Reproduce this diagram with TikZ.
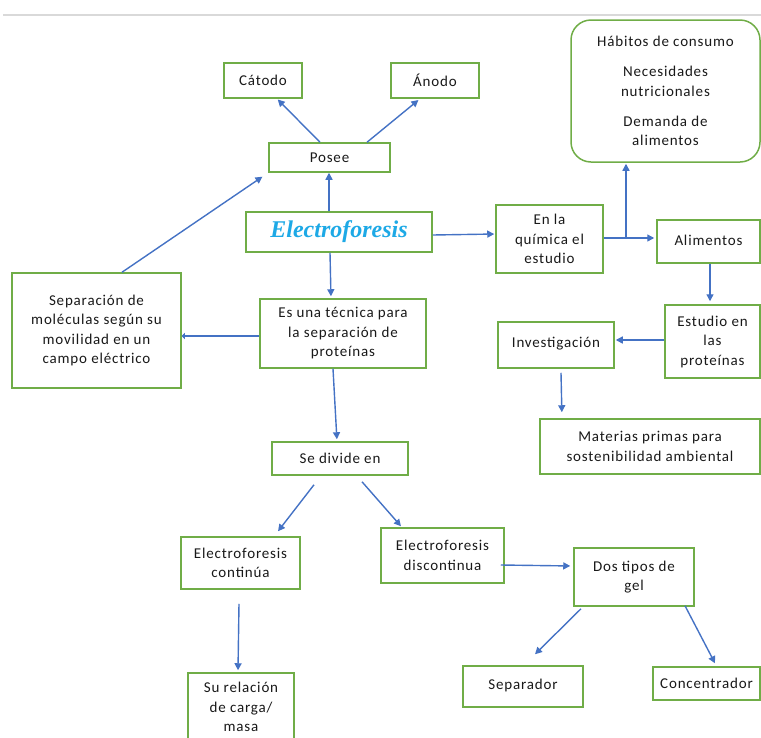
\documentclass[tikz,border=0pt]{standalone}
\usepackage{fontspec}
\setmainfont{Carlito}[LetterSpace=5.5]
\newfontfamily\titlefont{Liberation Serif}
\usetikzlibrary{arrows.meta}
\definecolor{boxgreen}{HTML}{70AD47}
\definecolor{arrowblue}{HTML}{4472C4}
\definecolor{titleblue}{HTML}{1DA9E6}
\definecolor{rulegray}{HTML}{D9D9D9}
\tikzset{
  box/.style={draw=boxgreen, line width=1.5pt, fill=white, align=center,
    inner sep=0pt, font=\fontsize{15}{19.5}\selectfont, text=black!90},
  conn/.style={draw=arrowblue, line width=1.4pt,
    -{Triangle[length=7pt,width=7pt]}},
}
\newcommand{\placebox}[7][]{%
  \node[box,#1, minimum width=#4pt, minimum height=#5pt] (#2) at (#3) {#6#7};}
\begin{document}
\begin{tikzpicture}[x=1pt,y=-1pt]
\useasboundingbox (0,0) rectangle (761,737);
% header rule
\draw[rulegray, line width=2.5pt] (3,15) -- (761,15);

% concept boxes
\placebox{catodo}{263,80.5}{78}{35}{C\'atodo}{}
\placebox{anodo}{435,80.5}{88}{35}{\'Anodo}{}
\placebox{posee}{329.5,157.5}{121}{29}{Posee}{}
\placebox[font=\fontsize{24}{26}\titlefont\bfseries\itshape, text=titleblue]{electro}{339,232}{186}{40}{Electroforesis}{}
\placebox{quimica}{549.5,239}{107}{68}{En la\\qu\'imica el\\estudio}{}
\placebox{alimentos}{708.5,241.5}{103}{43}{\raisebox{3pt}{Alimentos}}{}
\placebox[rounded corners=20pt]{habitos}{665.5,91}{189}{142}{H\'abitos de consumo\\[10.5pt]Necesidades\\nutricionales\\[10.5pt]}{Demanda de\\alimentos}
\placebox{separacion}{96.5,330.5}{169}{115}{Separaci\'on de\\mol\'eculas seg\'un su\\movilidad en un\\campo el\'ectrico}{}
\placebox{tecnica}{343,333.5}{166}{69}{Es una t\'ecnica para\\la separaci\'on de\\prote\'inas}{}
\placebox{estudio}{712.5,341.5}{95}{73}{Estudio en\\las\\prote\'inas}{}
\placebox{investigacion}{556,345}{116}{46}{\raisebox{5pt}{Investigaci\'on}}{}
\placebox{materias}{650,446.5}{220}{55}{Materias primas para\\sostenibilidad ambiental}{}
\placebox{sedivide}{340,458.5}{136}{33}{Se divide en}{}
\placebox{continua}{240.5,563}{119}{52}{Electroforesis\\contin\'ua}{}
\placebox{discontinua}{442.5,555.5}{123}{55}{Electroforesis\\discontinua}{}
\placebox{dostipos}{634,577}{120}{58}{Dos tipos de\\gel}{}
\placebox{separador}{523,686.5}{120}{41}{\raisebox{4pt}{Separador}}{}
\placebox{concentrador}{706.5,683.5}{107}{33}{Concentrador}{}
\placebox{surelacion}{241,707}{106}{68}{Su relaci\'on\\de carga/\\masa}{}

% connectors
\draw[conn, shorten >=1pt] ([xshift=-9.5pt]posee.north) -- ([xshift=14pt]catodo.south);
\draw[conn, shorten >=2pt] ([xshift=37.5pt]posee.north) -- ([xshift=-15pt]anodo.south);
\draw[conn] ([xshift=-10pt]electro.north) -- ([xshift=-0.5pt]posee.south);
\draw[conn, shorten >=7pt] ([xshift=25.5pt]separacion.north) -- (posee.south west);
\draw[conn, shorten >=1pt] ([yshift=-3pt]electro.east) -- ([yshift=5pt]quimica.west);
\coordinate (fork) at (626,238);
\draw[conn, shorten >=2pt] (quimica.east |- fork) -- (alimentos.west |- fork);
\draw[conn, shorten >=1pt] (fork) -- (habitos.south -| fork);
\draw[conn, shorten >=3pt] ([xshift=1.5pt]alimentos.south) -- ([xshift=1.5pt]alimentos.south |- estudio.north);
\draw[conn, shorten >=1pt] ([yshift=1.5pt]estudio.west) -- ([yshift=1.5pt]estudio.west -| investigacion.east);
\draw[conn, shorten >=6pt] ([xshift=5pt,yshift=-4pt]investigacion.south) -- ([xshift=6pt]investigacion.south |- materias.north);
\draw[conn, shorten >=2pt] ([xshift=-9pt]electro.south) -- ([xshift=-12pt]tecnica.north);
\draw[draw=arrowblue, line width=1.4pt, -{Triangle[length=3pt,width=6pt]}] ([yshift=-2.5pt]tecnica.west) -- ([yshift=-2.5pt]tecnica.west -| separacion.east);
\draw[conn, shorten >=2pt] ([xshift=-10pt]tecnica.south) -- ([xshift=-3pt]sedivide.north);
\draw[conn] ([xshift=-26pt,yshift=-9pt]sedivide.south) -- ([xshift=37.5pt,yshift=5pt]continua.north);
\draw[conn] ([xshift=22pt,yshift=-6pt]sedivide.south) -- ([xshift=-41.5pt,yshift=1pt]discontinua.north);
\draw[conn] ([xshift=-1.5pt,yshift=-14pt]continua.south) -- ([xshift=-3pt,yshift=2pt]surelacion.north);
\draw[conn, shorten >=3pt] ([xshift=-4pt,yshift=-9.5pt]discontinua.east) -- ([yshift=11pt]dostipos.west);
\draw[conn] ([xshift=-53pt,yshift=-2pt]dostipos.south) -- ([xshift=12pt,yshift=11pt]separador.north);
\draw[conn] ([xshift=51pt,yshift=1pt]dostipos.south) -- ([xshift=8.5pt,yshift=3pt]concentrador.north);
\end{tikzpicture}
\end{document}
